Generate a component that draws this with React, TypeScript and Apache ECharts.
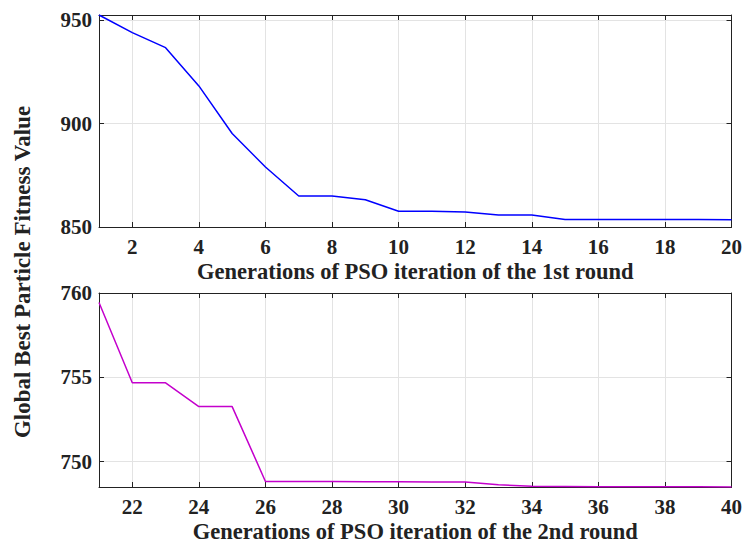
import React, { useEffect, useRef } from "react";
import * as echarts from "echarts";

// Generations and best fitness of the first PSO round
const round1Gen = [1, 2, 3, 4, 5, 6, 7, 8, 9, 10, 11, 12, 13, 14, 15, 16, 17, 18, 19, 20];
const round1Fit = [
  952.5, 944.0, 936.7, 918.2, 895.2, 879.0, 865.0, 865.0, 863.2, 857.6,
  857.6, 857.3, 855.8, 855.8, 853.6, 853.6, 853.6, 853.6, 853.6, 853.5,
];

// Generations and best fitness of the second PSO round
const round2Gen = [21, 22, 23, 24, 25, 26, 27, 28, 29, 30, 31, 32, 33, 34, 35, 36, 37, 38, 39, 40];
const round2Fit = [
  759.44, 754.67, 754.67, 753.26, 753.26, 748.82, 748.82, 748.81, 748.8, 748.8,
  748.79, 748.79, 748.62, 748.53, 748.52, 748.51, 748.5, 748.5, 748.5, 748.49,
];

const xTitle1 = "Generations of PSO iteration of the 1st round";
const xTitle2 = "Generations of PSO iteration of the 2nd round";
const yTitle = "Global Best Particle Fitness Value";

const FONT = "'Liberation Serif', 'Times New Roman', serif";
const INK = "#222222";
const GRID_LINE = "#e3e3e3";

export default function App() {
  const ref = useRef<HTMLDivElement>(null);

  useEffect(() => {
    if (!ref.current) return;
    const chart = echarts.init(ref.current, undefined, { renderer: "svg" });

    const tickLabel = {
      color: INK,
      fontFamily: FONT,
      fontWeight: "bold" as const,
      fontSize: 21,
    };
    const axisLine = { show: true, onZero: false, lineStyle: { color: INK, width: 1 } };
    const axisTick = { show: true, inside: true, length: 5, lineStyle: { color: INK, width: 1 } };
    const splitLine = { show: true, lineStyle: { color: GRID_LINE, width: 1 } };
    const nameStyle = {
      color: INK,
      fontFamily: FONT,
      fontWeight: "bold" as const,
      fontSize: 22.5,
    };

    const xBottom = (gridIndex: number, min: number, max: number, name: string) => ({
      type: "value" as const,
      gridIndex,
      position: "bottom" as const,
      min,
      max,
      minInterval: 2,
      maxInterval: 2,
      name,
      nameLocation: "middle" as const,
      nameGap: 33,
      nameTextStyle: nameStyle,
      axisLine,
      axisTick,
      splitLine,
      axisLabel: { ...tickLabel, margin: 9, showMinLabel: false },
    });
    const xTop = (gridIndex: number, min: number, max: number) => ({
      type: "value" as const,
      gridIndex,
      position: "top" as const,
      min,
      max,
      minInterval: 2,
      maxInterval: 2,
      axisLine,
      axisTick,
      splitLine: { show: false },
      axisLabel: { show: false },
    });
    const yLeft = (gridIndex: number, min: number, max: number, step: number, hideMin: boolean) => ({
      type: "value" as const,
      gridIndex,
      position: "left" as const,
      min,
      max,
      minInterval: step,
      maxInterval: step,
      axisLine,
      axisTick,
      splitLine,
      axisLabel: { ...tickLabel, margin: 7, showMinLabel: !hideMin, showMaxLabel: hideMin },
    });
    const yRight = (gridIndex: number, min: number, max: number, step: number) => ({
      type: "value" as const,
      gridIndex,
      position: "right" as const,
      min,
      max,
      minInterval: step,
      maxInterval: step,
      axisLine,
      axisTick,
      splitLine: { show: false },
      axisLabel: { show: false },
    });

    const min2 = Math.min(...round2Fit);

    chart.setOption({
      animation: false,
      backgroundColor: "#ffffff",
      grid: [
        { left: 99, top: 15, right: 11, height: 212 },
        { left: 99, top: 293, right: 11, height: 194 },
      ],
      xAxis: [
        xBottom(0, 1, 20, xTitle1),
        xTop(0, 1, 20),
        xBottom(1, 21, 40, xTitle2),
        xTop(1, 21, 40),
      ],
      yAxis: [
        yLeft(0, 850, 952.5, 50, false),
        yRight(0, 850, 952.5, 50),
        yLeft(1, min2, 760, 5, true),
        yRight(1, min2, 760, 5),
      ],
      series: [
        {
          type: "line",
          xAxisIndex: 0,
          yAxisIndex: 0,
          data: round1Gen.map((g, i) => [g, round1Fit[i]]),
          showSymbol: false,
          lineStyle: { color: "#0000ff", width: 1.5 },
          itemStyle: { color: "#0000ff" },
        },
        {
          type: "line",
          xAxisIndex: 2,
          yAxisIndex: 2,
          data: round2Gen.map((g, i) => [g, round2Fit[i]]),
          showSymbol: false,
          lineStyle: { color: "#c400cc", width: 1.5 },
          itemStyle: { color: "#c400cc" },
        },
      ],
      graphic: [
        {
          type: "text",
          x: 22,
          y: 272,
          rotation: Math.PI / 2,
          style: {
            text: yTitle,
            fill: INK,
            font: `bold 23px ${FONT}`,
            align: "center",
            verticalAlign: "middle",
          },
        },
      ],
    });

    return () => chart.dispose();
  }, []);

  return (
    <div
      ref={ref}
      style={{ position: "fixed", left: 0, top: 0, width: 745, height: 544 }}
    />
  );
}
